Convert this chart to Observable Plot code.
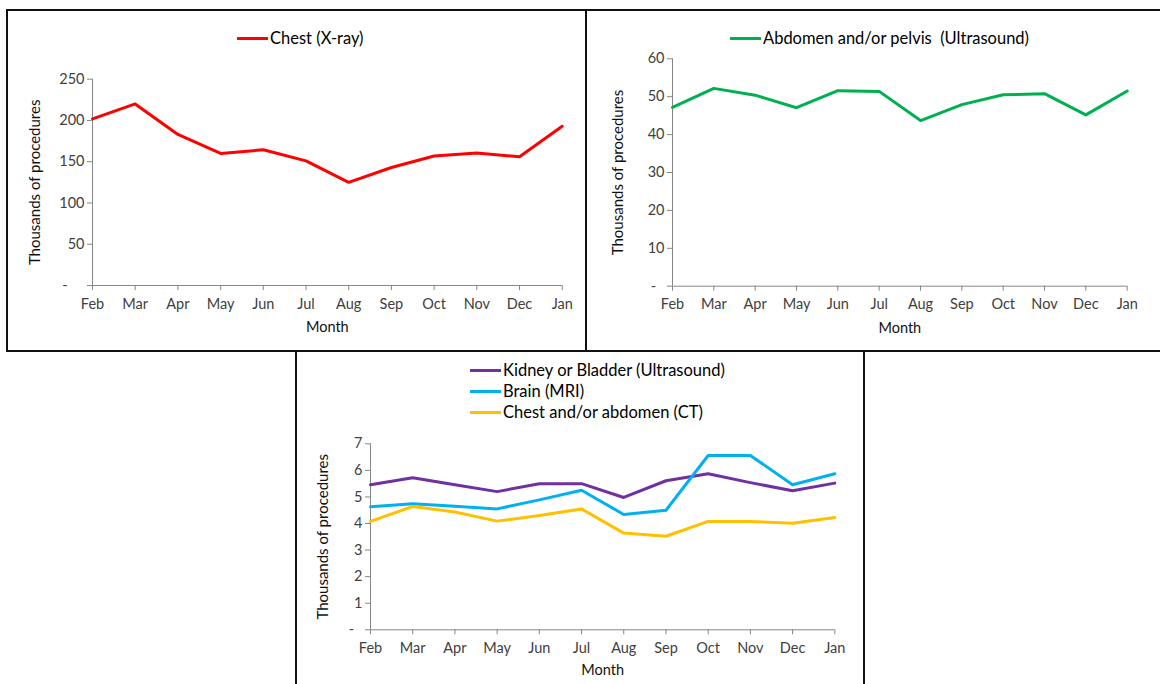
<!DOCTYPE html>
<html><head><meta charset="utf-8">
<script src="https://cdn.jsdelivr.net/npm/d3@7"></script>
<script src="https://cdn.jsdelivr.net/npm/@observablehq/plot@0.6"></script>
<style>
body{margin:0;background:#fff;font-family:Lato, sans-serif;}
#root{position:relative;width:1160px;height:684px;overflow:hidden;background:#fff;}
.panel{position:absolute;box-sizing:border-box;border:2px solid #111;}
.chart{position:absolute;}
.lrow{position:absolute;height:20px;display:flex;align-items:center;font-size:16.5px;color:#000;white-space:pre;font-family:Lato, sans-serif;}
.lrow .sw{display:inline-block;width:31px;height:3px;margin-right:2px;}
</style></head><body><div id="root"></div>
<script>
const months = ["Feb","Mar","Apr","May","Jun","Jul","Aug","Sep","Oct","Nov","Dec","Jan"];
const chestXray = [202,220,183,160,164.5,151,125,143,157,160.5,156,193];
const abdomenUS = [47.2,52.2,50.4,47.1,51.6,51.4,43.7,47.9,50.5,50.8,45.2,51.5];
const kidneyUS = [5.46,5.72,5.46,5.2,5.5,5.5,4.98,5.61,5.87,5.54,5.23,5.52];
const brainMRI = [4.63,4.74,4.65,4.55,4.89,5.25,4.34,4.5,6.56,6.56,5.46,5.87];
const chestCT = [4.08,4.64,4.43,4.09,4.3,4.55,3.64,3.52,4.08,4.08,4.01,4.23];

const names1 = ["Chest (X-ray)"];
const names2 = ["Abdomen and/or pelvis  (Ultrasound)"];
const names3 = ["Kidney or Bladder (Ultrasound)","Brain (MRI)","Chest and/or abdomen (CT)"];
const colors1 = ["#FF0000"];
const colors2 = ["#00B050"];
const colors3 = ["#7030A0","#00B0F0","#FFC000"];
const ticks1 = [0,50,100,150,200,250];
const ticks2 = [0,10,20,30,40,50,60];
const ticks3 = [0,1,2,3,4,5,6,7];

const root = document.getElementById("root");

function panel(l,t,w,h){
  const d=document.createElement("div");d.className="panel";
  Object.assign(d.style,{left:l+"px",top:t+"px",width:w+"px",height:h+"px"});
  root.appendChild(d);
}
function legend(names, colors, left, centers){
  names.forEach((n,i)=>{
    const r=document.createElement("div");r.className="lrow";
    r.style.left=left+"px";r.style.top=(centers[i]-10)+"px";
    const s=document.createElement("span");s.className="sw";s.style.background=colors[i];
    r.appendChild(s);r.appendChild(document.createTextNode(n));
    root.appendChild(r);
  });
}
function chart(o){
  const data=[];
  o.names.forEach((n,i)=>o.values[i].forEach((v,j)=>data.push({series:n,month:months[j],value:v})));
  const fmt = d => d===0 ? o.zero : String(d);
  const svg = Plot.plot({
    width:o.width,height:o.height,
    marginLeft:o.ml,marginRight:o.mr,marginTop:o.mt,marginBottom:o.mb,
    style:{fontFamily:"Lato, sans-serif",fontSize:"14.5px",background:"transparent",overflow:"visible"},
    x:{type:"point",domain:months,padding:0,round:false,axis:null},
    y:{domain:o.yDomain,axis:null},
    color:{domain:o.names,range:o.colors},
    marks:[
      Plot.axisX({tickSize:5,tickPadding:8,stroke:"#868686",fill:"#404040",label:null}),
      Plot.axisY({ticks:o.ticks,tickSize:5,tickPadding:3,tickFormat:fmt,stroke:"#868686",fill:"#404040",label:null}),
      Plot.ruleY([0],{stroke:"#868686"}),
      Plot.ruleX([months[0]],{stroke:"#868686"}),
      Plot.line(data,{x:"month",y:"value",z:"series",stroke:"series",strokeWidth:3}),
      Plot.text(["Month"],{frameAnchor:"bottom",lineAnchor:"middle",textAnchor:"middle",dy:o.mdy,fontSize:14.5,fill:"#111"}),
      Plot.text(["Thousands of procedures"],{frameAnchor:"left",lineAnchor:"middle",textAnchor:"middle",rotate:-90,dx:o.ydx,fontSize:15,fill:"#111"})
    ]
  });
  svg.classList.add("chart");
  svg.style.left=o.left+"px";svg.style.top=o.top+"px";
  root.appendChild(svg);
}

chart({names:names1,values:[chestXray],colors:colors1,ticks:ticks1,yDomain:[0,250],zero:"-\u2007\u2007",
  left:7,top:10,width:579,height:341,ml:85,mr:24.3,mt:68.7,mb:66,mdy:42,ydx:-57});
chart({names:names2,values:[abdomenUS],colors:colors2,ticks:ticks2,yDomain:[0,60],zero:"-\u2007",
  left:587,top:10,width:573,height:341,ml:85,mr:33.3,mt:48.3,mb:65.3,mdy:42,ydx:-54});
chart({names:names3,values:[kidneyUS,brainMRI,chestCT],colors:colors3,ticks:ticks3,yDomain:[0,7],zero:"-\u2007",
  left:297,top:352,width:566,height:332,ml:73,mr:28.7,mt:91.3,mb:54.7,mdy:41,ydx:-47});

panel(6,9,581,343);
panel(585,9,590,343);
panel(295,350,570,350);

legend(names1,colors1,237,[38]);
legend(names2,colors2,730,[38]);
legend(names3,colors3,470,[370,391,412]);
</script></body></html>
